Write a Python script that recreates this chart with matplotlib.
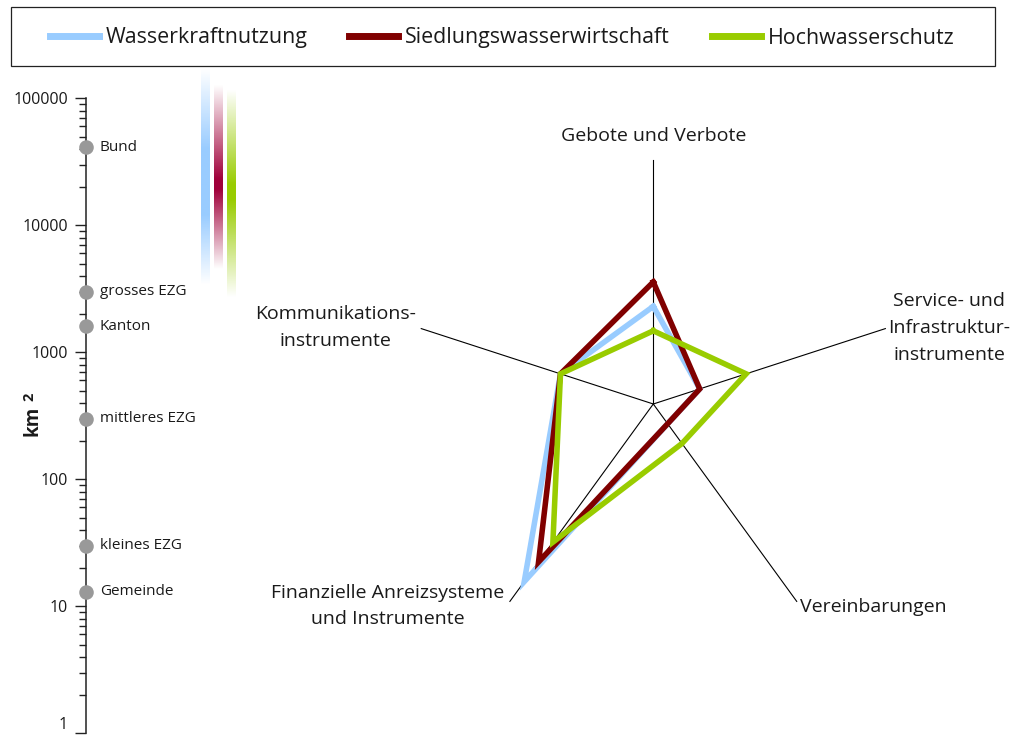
import numpy as np
import matplotlib
matplotlib.use("Agg")
import matplotlib.pyplot as plt
from matplotlib.lines import Line2D
from matplotlib.patches import Rectangle
from matplotlib.ticker import FixedLocator, LogLocator, NullFormatter, FuncFormatter

plt.rcParams['font.family'] = ['Open Sans', 'DejaVu Sans']

# ---------------- data ----------------
series_names = ["Wasserkraftnutzung", "Siedlungswasserwirtschaft", "Hochwasserschutz"]
series_colors = ["#99CCFF", "#800000", "#99CC00"]
grad_colors = ["#99CCFF", "#A0003A", "#99CC00"]

radar_categories = ["Gebote und Verbote",
                    "Service- und\nInfrastruktur-\ninstrumente",
                    "Vereinbarungen",
                    "Finanzielle Anreizsysteme\nund Instrumente",
                    "Kommunikations-\ninstrumente"]
wasserkraft = [2.0, 1.0, 0.5, 4.5, 2.0]
siedlung = [2.5, 1.0, 0.5, 4.0, 2.0]
hochwasser = [1.5, 2.0, 1.0, 3.5, 2.0]
radar_max = 5

scale_labels = ["Bund", "grosses EZG", "Kanton", "mittleres EZG", "kleines EZG", "Gemeinde"]
scale_km2 = [41300, 3000, 1600, 300, 30, 13]
axis_ticks = [1, 10, 100, 1000, 10000, 100000]

# relevance ranges (km²): fade-in start, full from, full to, fade-out end
grad_wasserkraft = [170000, 40000, 12000, 3400]
grad_siedlung = [127000, 23000, 19000, 4500]
grad_hochwasser = [116000, 21000, 15800, 2700]

# ---------------- figure ----------------
W, H = 1012, 735
fig = plt.figure(figsize=(W / 100, H / 100), dpi=100)
txt_col = "#1a1a1a"


def px_axes(x0, y0, x1, y1):
    return fig.add_axes([x0 / W, 1 - y1 / H, (x1 - x0) / W, (y1 - y0) / H])


# ---- left log scale ----
y_bottom = 733.3
dec = 127.0
ax1 = px_axes(86, y_bottom - 5 * dec, 190, y_bottom)
ax1.set_yscale('log')
ax1.set_ylim(1, 1e5)
ax1.set_xlim(0, 1)
for s in ['top', 'right', 'bottom']:
    ax1.spines[s].set_visible(False)
ax1.spines['left'].set_linewidth(1.1)
ax1.spines['left'].set_color('#222222')
ax1.set_xticks([])
ax1.patch.set_alpha(0)
ax1.yaxis.set_major_locator(FixedLocator(axis_ticks))
ax1.yaxis.set_major_formatter(FuncFormatter(lambda v, p: f"{int(round(v))}"))
ax1.yaxis.set_minor_locator(LogLocator(base=10, subs=np.arange(2, 10)))
ax1.yaxis.set_minor_formatter(NullFormatter())
ax1.tick_params(axis='y', which='major', length=8, width=1, pad=5,
                labelsize=11.5, labelcolor=txt_col, color='#222222')
ax1.tick_params(axis='y', which='minor', length=5, width=1, color='#222222')
fig.canvas.draw()
for lbl in ax1.get_yticklabels():
    if lbl.get_text() == "1":
        lbl.set_va('bottom')
ax1.scatter([0] * len(scale_km2), scale_km2, s=110, color='#999999',
            clip_on=False, zorder=3, linewidths=0)
for lab, v in zip(scale_labels, scale_km2):
    ax1.annotate(lab, (0, v), xytext=(10, 0), textcoords='offset points',
                 va='center', ha='left', fontsize=11, color=txt_col)

fig.text(33 / W, 1 - 421 / H, "km", rotation=90, fontsize=13.5, fontweight='bold',
         ha='center', va='center', color=txt_col)
fig.text(29 / W, 1 - 397 / H, "2", rotation=90, fontsize=10.5, fontweight='bold',
         ha='center', va='center', color=txt_col)

# ---- gradient bars ----
top_log = 5.5
axg = px_axes(195, y_bottom - top_log * dec, 245, y_bottom)
axg.set_xlim(195, 245)
axg.set_ylim(0, top_log)
axg.axis('off')
ys = np.linspace(0, top_log, 800)
bar_x = [(201, 210), (214, 223), (227, 236)]
for col, rng, (x0, x1) in zip(grad_colors, [grad_wasserkraft, grad_siedlung, grad_hochwasser], bar_x):
    lv = np.log10(rng)[::-1]
    alpha = np.interp(ys, lv, [0, 1, 1, 0], left=0, right=0)
    rgba = np.zeros((len(ys), 1, 4))
    rgba[..., :3] = matplotlib.colors.to_rgb(col)
    rgba[:, 0, 3] = alpha
    axg.imshow(rgba, extent=[x0, x1, 0, top_log], origin='lower', aspect='auto',
               interpolation='bilinear')

# ---- radar ----
cx, cy = 653.3, 404.0
unit = 48.8
R = 300
axr = px_axes(cx - R, cy - R, cx + R, cy + R)
axr.set_xlim(-R / unit, R / unit)
axr.set_ylim(-R / unit, R / unit)
axr.axis('off')
angles = np.deg2rad([90, 18, -54, -126, 162])
for a in angles:
    axr.plot([0, radar_max * np.cos(a)], [0, radar_max * np.sin(a)],
             color='black', lw=0.8, zorder=1)
for vals, col in zip([wasserkraft, siedlung, hochwasser], series_colors):
    v = np.array(vals + vals[:1])
    aa = np.concatenate([angles, angles[:1]])
    axr.plot(v * np.cos(aa), v * np.sin(aa), color=col, lw=4.0,
             solid_joinstyle='miter', zorder=2)

label_pos = [(0.0, 5.49), (6.06, 1.56), (4.50, -4.16), (-5.45, -4.14), (-6.52, 1.57)]
for lab, (lx, ly) in zip(radar_categories, label_pos):
    axr.text(lx, ly, lab, ha='center', va='center', fontsize=14,
             color=txt_col, linespacing=1.62, multialignment='center')

# ---- legend ----
fig.patches.append(Rectangle((11 / W, 1 - 66 / H), 984 / W, 59 / H,
                             transform=fig.transFigure, fill=False,
                             edgecolor='#222222', linewidth=0.9))
handles = [Line2D([], [], color=c, lw=5.0) for c in series_colors]
leg = fig.legend(handles, series_names, loc='center',
                 bbox_to_anchor=(502 / W, 1 - 38 / H),
                 ncol=3, frameon=False, fontsize=15.4, handlelength=2.3,
                 handletextpad=0.32, columnspacing=1.95, borderaxespad=0,
                 borderpad=0)
for t in leg.get_texts():
    t.set_color(txt_col)

fig.savefig("out.png", dpi=100, facecolor='white')
